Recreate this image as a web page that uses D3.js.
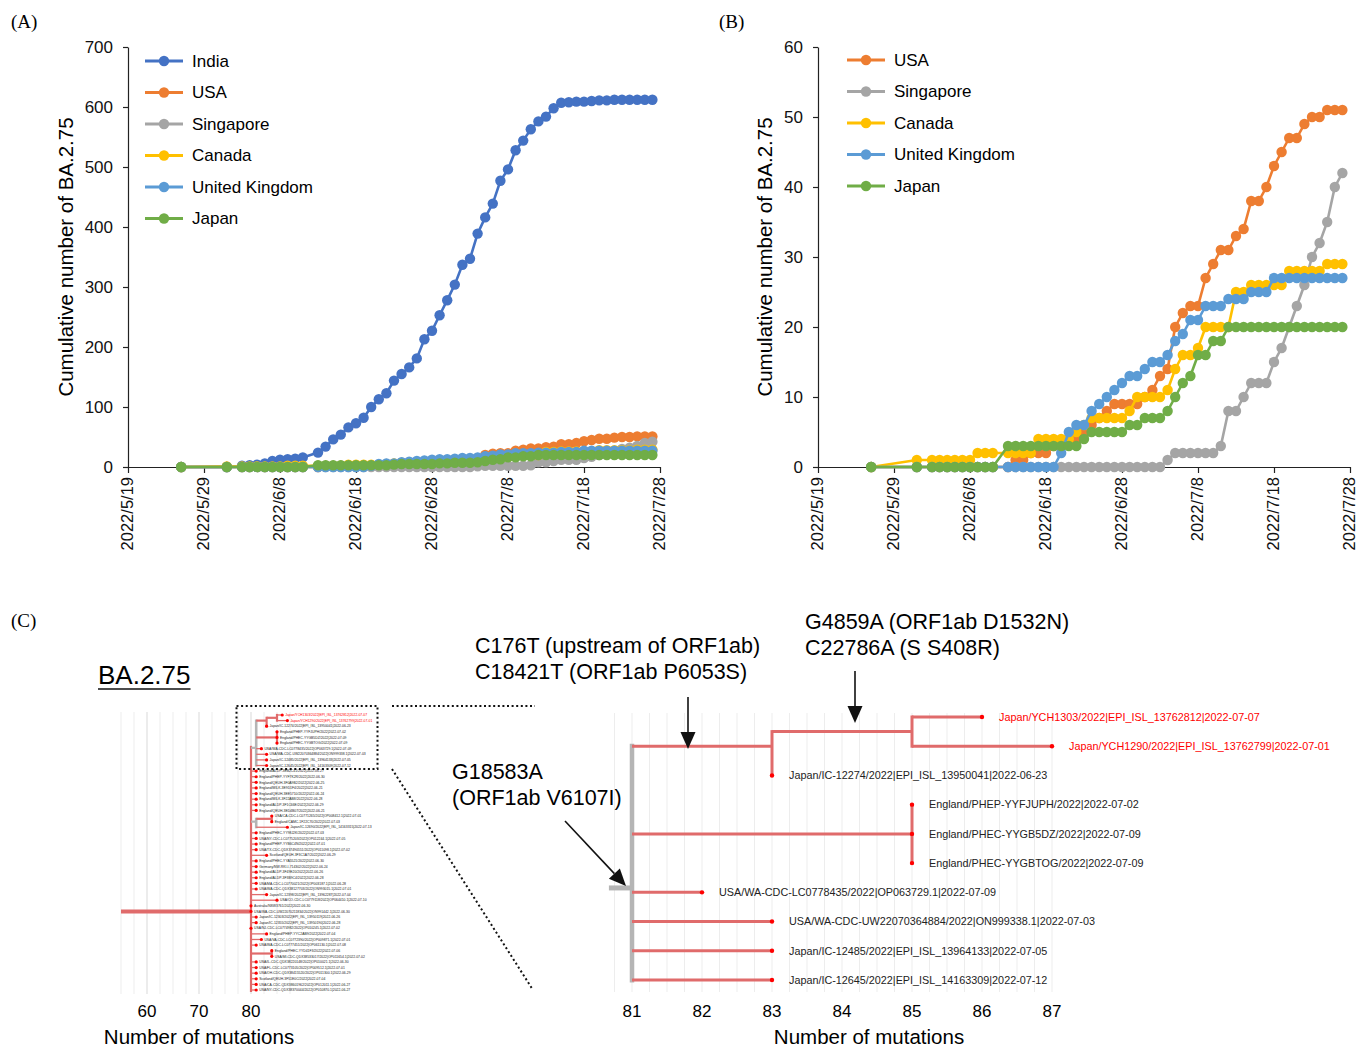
<!DOCTYPE html>
<html lang="en">
<head>
<meta charset="UTF-8">
<title>BA.2.75 figure</title>
<script src="https://d3js.org/d3.v7.min.js"></script>
<style>
  body { margin: 0; background: #fff; }
  svg { font-family: "Liberation Sans", Arial, sans-serif; display: block; }
  .axis path, .axis line { stroke: #222; stroke-width: 1.2; }
  .axis text { font-size: 17px; fill: #111; }
  .axis.dates text { font-size: 16.5px; }
</style>
</head>
<body>
<script>
// ---- data: cumulative BA.2.75 counts ----
const dates = ["2022/5/26","2022/6/1","2022/6/3","2022/6/4","2022/6/5","2022/6/6","2022/6/7","2022/6/8","2022/6/9","2022/6/10","2022/6/11",
  "2022/6/13","2022/6/14","2022/6/15","2022/6/16","2022/6/17","2022/6/18","2022/6/19","2022/6/20","2022/6/21","2022/6/22","2022/6/23",
  "2022/6/24","2022/6/25","2022/6/26","2022/6/27","2022/6/28","2022/6/29","2022/6/30",
  "2022/7/1","2022/7/2","2022/7/3","2022/7/4","2022/7/5","2022/7/6","2022/7/7","2022/7/8","2022/7/9","2022/7/10","2022/7/11",
  "2022/7/12","2022/7/13","2022/7/14","2022/7/15","2022/7/16","2022/7/17","2022/7/18","2022/7/19","2022/7/20","2022/7/21",
  "2022/7/22","2022/7/23","2022/7/24","2022/7/25","2022/7/26","2022/7/27"];

const india = [0,0,2,3,4,6,10,12,13,14,16,
  24,34,46,54,66,73,82,100,113,123,144,155,166,181,213,227,253,278,
  304,337,347,389,416,439,477,496,528,544,563,576,584,598,607,608,609,609,610,611,611,612,612,612,612,612,612];
const usa = [0,0,0,0,0,0,0,0,0,0,0,
  0,1,1,2,2,2,3,3,4,4,5,6,7,8,9,9,9,9,
  10,11,13,14,20,22,23,23,27,29,31,31,33,34,38,38,40,43,45,47,47,49,50,50,51,51,51];
const singapore = [0,0,0,0,0,0,0,0,0,0,0,
  0,0,0,0,0,0,0,0,0,0,0,0,0,0,0,0,0,0,
  0,0,0,1,2,2,2,2,2,2,3,8,8,10,12,12,12,15,17,20,23,26,30,32,35,40,42];
const canada = [0,1,1,1,1,1,1,1,2,2,2,
  2,2,2,2,4,4,4,4,4,5,6,7,7,7,7,7,8,10,
  10,10,10,11,14,16,16,17,20,20,20,20,25,25,26,26,26,26,26,28,28,28,28,28,29,29,29];
const uk = [0,0,0,0,0,0,0,0,0,0,0,
  0,0,0,0,0,0,0,2,5,6,6,8,9,10,11,12,13,13,
  14,15,15,16,18,19,21,21,23,23,23,24,24,24,25,25,25,27,27,27,27,27,27,27,27,27,27];
const japan = [0,0,0,0,0,0,0,0,0,0,0,
  3,3,3,3,3,3,3,3,3,3,4,5,5,5,5,5,6,6,
  7,7,7,8,10,12,13,16,16,18,18,20,20,20,20,20,20,20,20,20,20,20,20,20,20,20,20];

const dateTicks = ["2022/5/19","2022/5/29","2022/6/8","2022/6/18","2022/6/28","2022/7/8","2022/7/18","2022/7/28"];
const yTicksA = [0,100,200,300,400,500,600,700];
const yTicksB = [0,10,20,30,40,50,60];

const seriesA = [
  {name: "India", values: india, color: "#4472C4"},
  {name: "USA", values: usa, color: "#ED7D31"},
  {name: "Singapore", values: singapore, color: "#A5A5A5"},
  {name: "Canada", values: canada, color: "#FFC000"},
  {name: "United Kingdom", values: uk, color: "#5B9BD5"},
  {name: "Japan", values: japan, color: "#70AD47"}
];
const seriesB = seriesA.slice(1);

// ---- data: phylogenetic tree (panel C) ----
const cladeNames = [
  "Japan/YCH1303/2022|EPI_ISL_13762812|2022-07-07",
  "Japan/YCH1290/2022|EPI_ISL_13762799|2022-07-01",
  "Japan/IC-12274/2022|EPI_ISL_13950041|2022-06-23",
  "England/PHEP-YYFJUPH/2022|2022-07-02",
  "England/PHEC-YYGB5DZ/2022|2022-07-09",
  "England/PHEC-YYGBTOG/2022|2022-07-09",
  "USA/WA-CDC-LC0778435/2022|OP063729.1|2022-07-09",
  "USA/WA-CDC-UW22070364884/2022|ON999338.1|2022-07-03",
  "Japan/IC-12485/2022|EPI_ISL_13964133|2022-07-05",
  "Japan/IC-12645/2022|EPI_ISL_14163309|2022-07-12"
];
const cladeMuts = [86, 87, 83, 85, 85, 85, 82, 83, 83, 83];
const cladeHighlight = [true, true, false, false, false, false, false, false, false, false];

const otherNames = [
  "England/ALDP-3EB2C41/2022|2022-06-27","England/PHEP-YYF7K2R/2022|2022-06-30","England/QEUH-3F0A9B2/2022|2022-06-25",
  "England/MILK-3E9D1F4/2022|2022-06-21","England/QEUH-3EE5710/2022|2022-06-24","England/MILK-3F22AB8/2022|2022-06-28",
  "England/ALDP-3F1C66E/2022|2022-06-29","England/QEUH-3ED4B07/2022|2022-06-21",
  "USA/CA-CDC-LC0771265/2022|OP008412.1|2022-07-01","England/CAMC-1F22C70/2022|2022-07-03",
  "Japan/IC-12690/2022|EPI_ISL_14163315|2022-07-13",
  "England/PHEC-YY98J2K/2022|2022-07-03","USA/NY-CDC-LC0775203/2022|OP012244.1|2022-07-05",
  "England/PHEP-YYB6C4N/2022|2022-07-01","USA/TX-CDC-QDX37490551/2022|OP011098.1|2022-07-02",
  "Scotland/QEUH-3F3C1A7/2022|2022-06-29","England/PHEC-YYA5521/2022|2022-06-30",
  "Germany/NW-RKI-I-714302/2022|2022-06-24","England/ALDP-3F49E20/2022|2022-06-26",
  "England/ALDP-3F3B9C4/2022|2022-06-28","USA/MA-CDC-LC0770021/2022|OP003187.1|2022-06-28",
  "USA/WA-CDC-QDX38127703/2022|ON993015.1|2022-07-01","Japan/IC-12398/2022|EPI_ISL_13962287|2022-07-04",
  "USA/CO-CDC-LC0779118/2022|OP064410.1|2022-07-10","Australia/NSW3761/2022|2022-06-30",
  "USA/WA-CDC-UW22070211834/2022|ON991442.1|2022-06-30","Japan/IC-12303/2022|EPI_ISL_13950119|2022-06-26",
  "Japan/IC-12355/2022|EPI_ISL_13950190|2022-06-28","USA/NJ-CDC-LC0774982/2022|OP010245.1|2022-07-02",
  "England/PHEP-YYC2AB9/2022|2022-07-04","USA/VA-CDC-LC0772390/2022|OP009871.1|2022-07-01",
  "USA/WA-CDC-LC0777451/2022|OP061130.1|2022-07-08","England/PHEC-YYD41F3/2022|2022-07-06",
  "USA/MI-CDC-QDX38533017/2022|OP011654.1|2022-07-02","USA/IL-CDC-QDX38220148/2022|OP010021.1|2022-06-30",
  "USA/FL-CDC-LC0773105/2022|OP009512.1|2022-07-01","USA/OH-CDC-QDX38415520/2022|OP011300.1|2022-06-29",
  "Scotland/QEUH-3F51E0C/2022|2022-07-04","USA/CA-CDC-QDX38601962/2022|OP012011.1|2022-06-27",
  "USA/NY-CDC-QDX38370044/2022|OP010870.1|2022-06-27"
];
const otherMuts = [81,81,81,81,81,81,81,81, 84,84,87, 81,81,81,81, 83, 81,81,81,81,81,81, 83,85, 80,80, 81,81, 80, 83,82,81, 84,84, 81,81,81,81,81,81];

const leftTicks = [60, 70, 80];
const rightTicks = [81, 82, 83, 84, 85, 86, 87];

// ---- drawing ----
const W = 1357, H = 1047;
const svg = d3.select("body").append("svg").attr("width", W).attr("height", H);
svg.append("rect").attr("width", W).attr("height", H).attr("fill", "#fff");

const parseDate = d3.timeParse("%Y/%m/%d");
const fmtDate = d3.timeFormat("%Y/%-m/%-d");
const dateObjs = dates.map(parseDate);
const tickObjs = dateTicks.map(parseDate);

function panelLabel(txt, x, y) {
  svg.append("text").attr("x", x).attr("y", y)
    .style("font-family", "'Liberation Serif', 'Times New Roman', serif")
    .style("font-size", "19px").text(txt);
}

function drawChart(opt) {
  const x = d3.scaleTime().domain([tickObjs[0], tickObjs[tickObjs.length - 1]]).range([opt.x0, opt.x1]);
  const y = d3.scaleLinear().domain([0, opt.yMax]).range([467, 47]);
  const g = svg.append("g");

  g.append("g").attr("class", "axis dates").attr("transform", "translate(0,467)")
    .call(d3.axisBottom(x).tickValues(tickObjs).tickFormat(fmtDate).tickSize(6).tickSizeOuter(0))
    .selectAll("text")
      .attr("transform", "rotate(-90)")
      .attr("x", -10).attr("y", -1).attr("dy", "0.33em")
      .style("text-anchor", "end");

  g.append("g").attr("class", "axis").attr("transform", `translate(${opt.x0},0)`)
    .call(d3.axisLeft(y).tickValues(opt.yTicks).tickSize(5).tickPadding(10).tickSizeOuter(0));

  g.append("text")
    .attr("transform", `translate(${opt.titleX},257) rotate(-90)`)
    .attr("text-anchor", "middle").attr("dy", "0.35em")
    .style("font-size", "20.5px").text("Cumulative number of BA.2.75");

  const line = d3.line().x((d, i) => x(dateObjs[i])).y(d => y(d));
  opt.series.forEach(s => {
    const sg = g.append("g");
    sg.append("path").datum(s.values).attr("d", line)
      .attr("fill", "none").attr("stroke", s.color).attr("stroke-width", 2.6);
    sg.selectAll("circle").data(s.values).enter().append("circle")
      .attr("cx", (d, i) => x(dateObjs[i])).attr("cy", d => y(d))
      .attr("r", 5.2).attr("fill", s.color);
  });

  // legend
  const lg = g.append("g");
  opt.series.forEach((s, i) => {
    const ly = opt.legY + i * 31.5;
    lg.append("line").attr("x1", opt.legX).attr("x2", opt.legX + 38).attr("y1", ly).attr("y2", ly)
      .attr("stroke", s.color).attr("stroke-width", 3);
    lg.append("circle").attr("cx", opt.legX + 19).attr("cy", ly).attr("r", 5.2).attr("fill", s.color);
    lg.append("text").attr("x", opt.legX + 47).attr("y", ly).attr("dy", "0.35em")
      .style("font-size", "17px").text(s.name);
  });
}

panelLabel("(A)", 11, 28);
drawChart({x0: 128, x1: 660, yMax: 700, yTicks: yTicksA, series: seriesA, titleX: 66, legX: 145, legY: 61});
panelLabel("(B)", 719, 28);
drawChart({x0: 818, x1: 1350, yMax: 60, yTicks: yTicksB, series: seriesB, titleX: 765, legX: 847, legY: 60});
panelLabel("(C)", 11, 627);

// ---- trees ----
const RED = "#e06b6b", GRAY = "#b5b5b5";

function cladeTree() {
  const lf = i => ({name: cladeNames[i], mut: cladeMuts[i], hl: cladeHighlight[i]});
  return {mut: 81, gray: true, row: 5.85, children: [
    {mut: 83, children: [{mut: 85, children: [lf(0), lf(1)]}, lf(2)]},
    {mut: 85, children: [lf(3), lf(4), lf(5)]},
    lf(6), lf(7), lf(8), lf(9)
  ]};
}

function drawTree(tree, xs, ys, o) {
  const g = svg.append("g");
  const root = d3.hierarchy(tree);
  let k = 0;
  root.eachBefore(n => { if (!n.children) n.row = k++; });
  root.eachAfter(n => {
    if (n.children) n.row = n.data.row != null ? n.data.row : d3.mean(n.leaves(), l => l.row);
  });
  root.each(n => {
    const from = n.parent ? n.parent.data.mut : n.data.start;
    const col = n.data.gray ? GRAY : RED;
    const w = n.parent ? (n.children ? o.innerW : o.leafW) : o.rootW;
    g.append("line").attr("x1", xs(from)).attr("x2", xs(n.data.mut))
      .attr("y1", ys(n.row)).attr("y2", ys(n.row))
      .attr("stroke", col).attr("stroke-width", w);
    if (n.children) {
      const rows = n.children.map(c => c.row);
      g.append("line").attr("x1", xs(n.data.mut)).attr("x2", xs(n.data.mut))
        .attr("y1", ys(d3.min(rows)) - w / 2).attr("y2", ys(d3.max(rows)) + w / 2)
        .attr("stroke", col).attr("stroke-width", n.data.gray ? o.grayW : o.innerW);
    }
  });
  root.leaves().forEach(l => {
    g.append("circle").attr("cx", xs(l.data.mut)).attr("cy", ys(l.row)).attr("r", o.dotR).attr("fill", "#f00");
    g.append("text").attr("x", xs(l.data.mut) + o.labDx).attr("y", ys(l.row)).attr("dy", "0.35em")
      .style("font-size", o.fontSize + "px")
      .attr("fill", l.data.hl ? "#f00" : "#222").text(l.data.name);
  });
}

function grid(xs, from, to, step, y0, y1, major) {
  const g = svg.append("g");
  d3.range(from, to + 1e-6, step).forEach(v => {
    g.append("line").attr("x1", xs(v)).attr("x2", xs(v)).attr("y1", y0).attr("y2", y1)
      .attr("stroke", major && Math.abs(v % 10) < 1e-6 ? "#d9d9d9" : "#ededed").attr("stroke-width", 1);
  });
}

// left (full) tree
const xL = d3.scaleLinear().domain([60, 80]).range([147, 251]);
const yL = d3.scaleLinear().domain([0, 49]).range([715, 990]);
grid(xL, 55, 87.5, 2.5, 712, 994, true);

const oth = (i) => ({name: otherNames[i], mut: otherMuts[i]});
const leftChildren = [cladeTree()];
for (let i = 0; i < 8; i++) leftChildren.push(oth(i));
leftChildren.push({mut: 81, gray: true, children: [{mut: 84, children: [oth(8), oth(9)]}, oth(10)]});
for (let i = 11; i < 32; i++) leftChildren.push(oth(i));
leftChildren.push({mut: 84, children: [oth(32), oth(33)]});
for (let i = 34; i < 40; i++) leftChildren.push(oth(i));
drawTree({mut: 80, start: 55, row: 35, children: leftChildren}, xL, yL,
  {rootW: 4, innerW: 2.2, leafW: 1.3, grayW: 2.6, dotR: 1.6, labDx: 3, fontSize: 3.4});

const ba = svg.append("text").attr("x", 98).attr("y", 684).style("font-size", "26px").text("BA.2.75");
const baLen = ba.node().getComputedTextLength();
svg.append("line").attr("x1", 98).attr("x2", 98 + baLen).attr("y1", 689).attr("y2", 689)
  .attr("stroke", "#111").attr("stroke-width", 1.5);

// left axis labels
leftTicks.forEach(t => {
  svg.append("text").attr("x", xL(t)).attr("y", 1011).attr("dy", "0.35em")
    .attr("text-anchor", "middle").style("font-size", "17px").text(t);
});
svg.append("text").attr("x", 199).attr("y", 1037).attr("dy", "0.35em")
  .attr("text-anchor", "middle").style("font-size", "20.5px").text("Number of mutations");

// zoom box & connectors
const dotted = {stroke: "#111", "stroke-width": 2, "stroke-dasharray": "2,2.6", fill: "none"};
function applyAttrs(sel, a) { Object.entries(a).forEach(([k, v]) => sel.attr(k, v)); return sel; }
applyAttrs(svg.append("rect").attr("x", 236.5).attr("y", 706).attr("width", 141).attr("height", 63), dotted);
applyAttrs(svg.append("line").attr("x1", 392).attr("y1", 706).attr("x2", 535).attr("y2", 706), dotted);
applyAttrs(svg.append("line").attr("x1", 392).attr("y1", 769).attr("x2", 533).attr("y2", 990), dotted);

// right (zoomed) tree
const xR = d3.scaleLinear().domain([81, 87]).range([632, 1052]);
const yR = d3.scaleLinear().domain([0, 9]).range([717, 980]);
grid(xR, 80.75, 87, 0.25, 713, 992, false);
const ct = cladeTree();
ct.start = 80.67;
drawTree(ct, xR, yR, {rootW: 5, innerW: 3, leafW: 3, grayW: 4.5, dotR: 2.2, labDx: 17, fontSize: 10.8});

rightTicks.forEach(t => {
  svg.append("text").attr("x", xR(t)).attr("y", 1011).attr("dy", "0.35em")
    .attr("text-anchor", "middle").style("font-size", "17px").text(t);
});
svg.append("text").attr("x", 869).attr("y", 1037).attr("dy", "0.35em")
  .attr("text-anchor", "middle").style("font-size", "20.5px").text("Number of mutations");

// annotations
function note(lines, x, y) {
  lines.forEach((t, i) => svg.append("text").attr("x", x).attr("y", y + i * 26.5)
    .attr("dy", "0.35em").style("font-size", "21.5px").text(t));
}
function arrow(x1, y1, x2, y2) {
  const a = Math.atan2(y2 - y1, x2 - x1), L = 17, Wd = 7.5;
  const bx = x2 - L * Math.cos(a), by = y2 - L * Math.sin(a);
  svg.append("line").attr("x1", x1).attr("y1", y1).attr("x2", bx).attr("y2", by)
    .attr("stroke", "#111").attr("stroke-width", 1.6);
  const px = -Math.sin(a) * Wd, py = Math.cos(a) * Wd;
  svg.append("path").attr("d", `M${x2},${y2}L${bx + px},${by + py}L${bx - px},${by - py}Z`).attr("fill", "#111");
}
note(["C176T (upstream of ORF1ab)", "C18421T (ORF1ab P6053S)"], 475, 645);
note(["G4859A (ORF1ab D1532N)", "C22786A (S S408R)"], 805, 621);
note(["G18583A", "(ORF1ab V6107I)"], 452, 771);
arrow(688, 697, 688, 749);
arrow(855, 671, 855, 723);
arrow(565, 821, 626, 886);
</script>
</body>
</html>
